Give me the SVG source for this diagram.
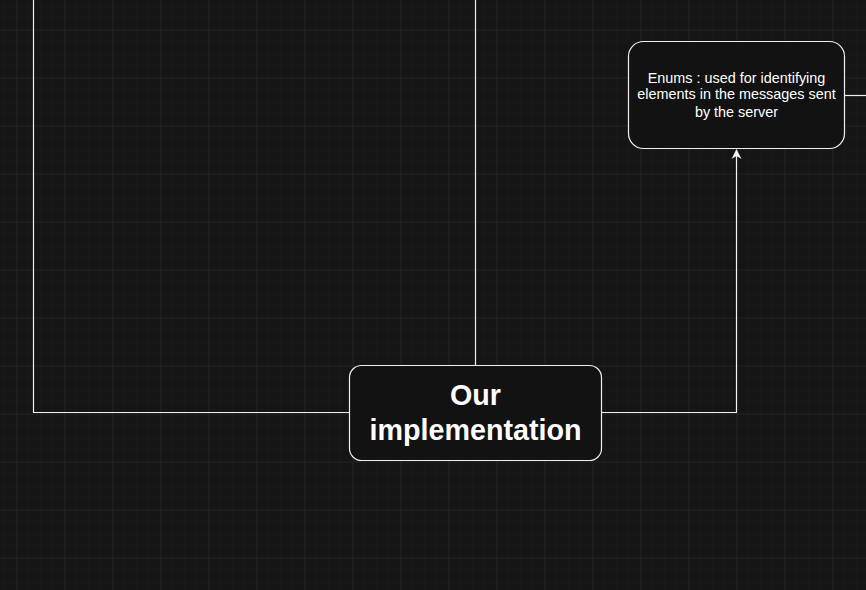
<svg xmlns="http://www.w3.org/2000/svg" width="866" height="590" viewBox="0 0 866 590">
<defs>
<pattern id="minor" x="4.5" y="5.5" width="12" height="12" patternUnits="userSpaceOnUse">
<path d="M0 0H12M0 0V12" fill="none" stroke="#1d1d1d" stroke-width="1"/>
</pattern>
<pattern id="major" x="16.5" y="29.5" width="48" height="48" patternUnits="userSpaceOnUse">
<path d="M0 0H48M0 0V48" fill="none" stroke="#2c2c2c" stroke-width="1"/>
</pattern>
<marker id="arr" markerWidth="10" markerHeight="12" refX="9" refY="5" orient="auto" markerUnits="userSpaceOnUse" viewBox="0 0 10 10">
<path d="M0 0L10 5L0 10L3 5Z" fill="#f0f0f0"/>
</marker>
</defs>
<style>
.node rect{fill:#121212;stroke:#f0f0f0;stroke-width:1.2}
.edge{fill:none;stroke:#f0f0f0;stroke-width:1.2}
.t{fill:#ffffff;font-family:"Liberation Sans",Arial,sans-serif;text-anchor:middle}
</style>
<rect width="866" height="590" fill="#151515"/>
<rect width="866" height="590" fill="url(#minor)"/>
<rect width="866" height="590" fill="url(#major)"/>
<g id="connectors">
<path class="edge" d="M349.5 412.5H33.5V0"/>
<path class="edge" d="M475.5 365.5V0"/>
<path class="edge" d="M601.5 412.5H736.5V150" marker-end="url(#arr)"/>
<path class="edge" d="M844.5 95.5H866"/>
</g>
<g id="our-implementation" class="node">
<rect x="349.5" y="365.5" width="252" height="95" rx="12"/>
<text class="t" x="475.5" y="405" font-size="28.7" font-weight="bold">Our</text>
<text class="t" x="475.5" y="440" font-size="28.7" font-weight="bold">implementation</text>
</g>
<g id="enums" class="node">
<rect x="628.5" y="41.5" width="216" height="107" rx="15"/>
<text class="t" x="736.5" y="83" font-size="14.4">Enums : used for identifying</text>
<text class="t" x="736.5" y="99" font-size="14.4">elements in the messages sent</text>
<text class="t" x="736.5" y="117" font-size="14.4">by the server</text>
</g>
</svg>
